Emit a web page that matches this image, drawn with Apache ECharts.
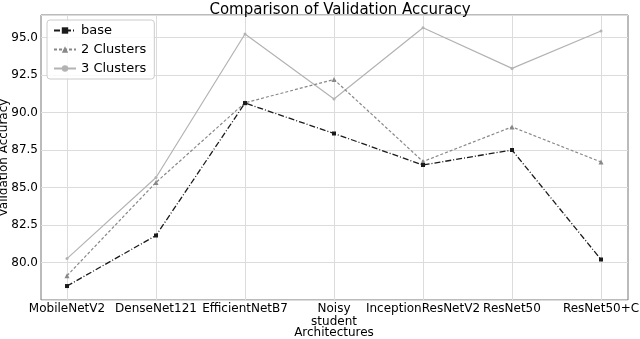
<!DOCTYPE html>
<html>
<head>
<meta charset="utf-8">
<script src="https://cdn.jsdelivr.net/npm/echarts@6/dist/echarts.min.js"></script>
<style>
  html, body { margin: 0; padding: 0; background: #fff; }
  #chart { width: 640px; height: 339px; }
</style>
</head>
<body>
<div id="chart"></div>
<script>
const architectures = ['MobileNetV2', 'DenseNet121', 'EfficientNetB7', 'Noisy\nstudent', 'InceptionResNetV2', 'ResNet50', 'ResNet50+C'];
const base = [78.43, 81.8, 90.63, 88.6, 86.5, 87.5, 80.2];
const twoClusters = [79.12, 85.34, 90.65, 92.2, 86.73, 89.04, 86.7];
const threeClusters = [80.26, 85.67, 95.23, 90.9, 95.65, 92.94, 95.43];

const font = 'DejaVu Sans';
const yMin = 77.5;
const yMax = 96.5;

const chart = echarts.init(document.getElementById('chart'));

const option = {
  animation: false,
  textStyle: { fontFamily: font },
  title: {
    text: 'Comparison of Validation Accuracy',
    left: 335,
    textAlign: 'center',
    top: -2,
    textStyle: { fontFamily: font, fontSize: 15, fontWeight: 'normal', color: '#000' },
  },
  legend: {
    orient: 'vertical',
    left: 47,
    top: 20,
    data: ['base', '2 Clusters', '3 Clusters'],
    itemWidth: 22,
    itemHeight: 8,
    itemGap: 6,
    padding: [4, 8, 4, 6],
    borderColor: '#ccc',
    borderWidth: 1,
    borderRadius: 3,
    backgroundColor: 'rgba(255,255,255,0.85)',
    textStyle: { fontFamily: font, fontSize: 13, color: '#000' },
  },
  grid: [
    {
      left: 41, right: 12, top: 15, bottom: 39,
      outerBoundsMode: 'none',
      show: true, borderColor: '#777', borderWidth: 1, backgroundColor: 'transparent',
    },
    { left: 67, right: 39, top: 15, bottom: 39, outerBoundsMode: 'none' },
  ],
  xAxis: [
    { gridIndex: 0, type: 'value', min: 0, max: 1, show: false },
    {
      gridIndex: 1,
      type: 'category',
      boundaryGap: false,
      data: architectures,
      name: 'Architectures',
      nameLocation: 'middle',
      nameGap: 27,
      nameMoveOverlap: false,
      nameTextStyle: { fontFamily: font, fontSize: 12, color: '#000' },
      axisLine: { show: false },
      axisTick: { show: false },
      axisLabel: { interval: 0, fontFamily: font, fontSize: 12, color: '#000', margin: 2, lineHeight: 13, hideOverlap: false },
      splitLine: { show: true, interval: 0, lineStyle: { color: '#dcdcdc', width: 1 } },
    },
  ],
  yAxis: [
    {
      gridIndex: 0,
      type: 'value',
      min: yMin,
      max: yMax,
      interval: 2.5,
      name: 'Validation Accuracy',
      nameLocation: 'middle',
      nameGap: 31,
      nameMoveOverlap: false,
      nameTextStyle: { fontFamily: font, fontSize: 12, color: '#000' },
      axisLine: { show: false },
      axisTick: { show: false },
      axisLabel: {
        fontFamily: font,
        fontSize: 12,
        color: '#000',
        margin: 3,
        showMinLabel: false,
        showMaxLabel: false,
        formatter: (v) => v.toFixed(1),
      },
      splitLine: { show: true, lineStyle: { color: '#dcdcdc', width: 1 } },
    },
    { gridIndex: 1, type: 'value', min: yMin, max: yMax, show: false },
  ],
  series: [
    {
      name: '3 Clusters',
      type: 'line',
      xAxisIndex: 1,
      yAxisIndex: 1,
      data: threeClusters,
      symbol: 'circle',
      symbolSize: 3,
      itemStyle: { color: '#b3b3b3' },
      lineStyle: { color: '#b3b3b3', width: 1.2 },
      z: 2,
    },
    {
      name: '2 Clusters',
      type: 'line',
      xAxisIndex: 1,
      yAxisIndex: 1,
      data: twoClusters,
      symbol: 'triangle',
      symbolSize: 5,
      itemStyle: { color: '#888' },
      lineStyle: { color: '#888', width: 1.2, type: [3, 2] },
      z: 3,
    },
    {
      name: 'base',
      type: 'line',
      xAxisIndex: 1,
      yAxisIndex: 1,
      data: base,
      symbol: 'rect',
      symbolSize: 4,
      itemStyle: { color: '#1a1a1a' },
      lineStyle: { color: '#1a1a1a', width: 1.3, type: [6, 2, 1, 2] },
      z: 4,
    },
  ],
};

chart.setOption(option);
</script>
</body>
</html>
